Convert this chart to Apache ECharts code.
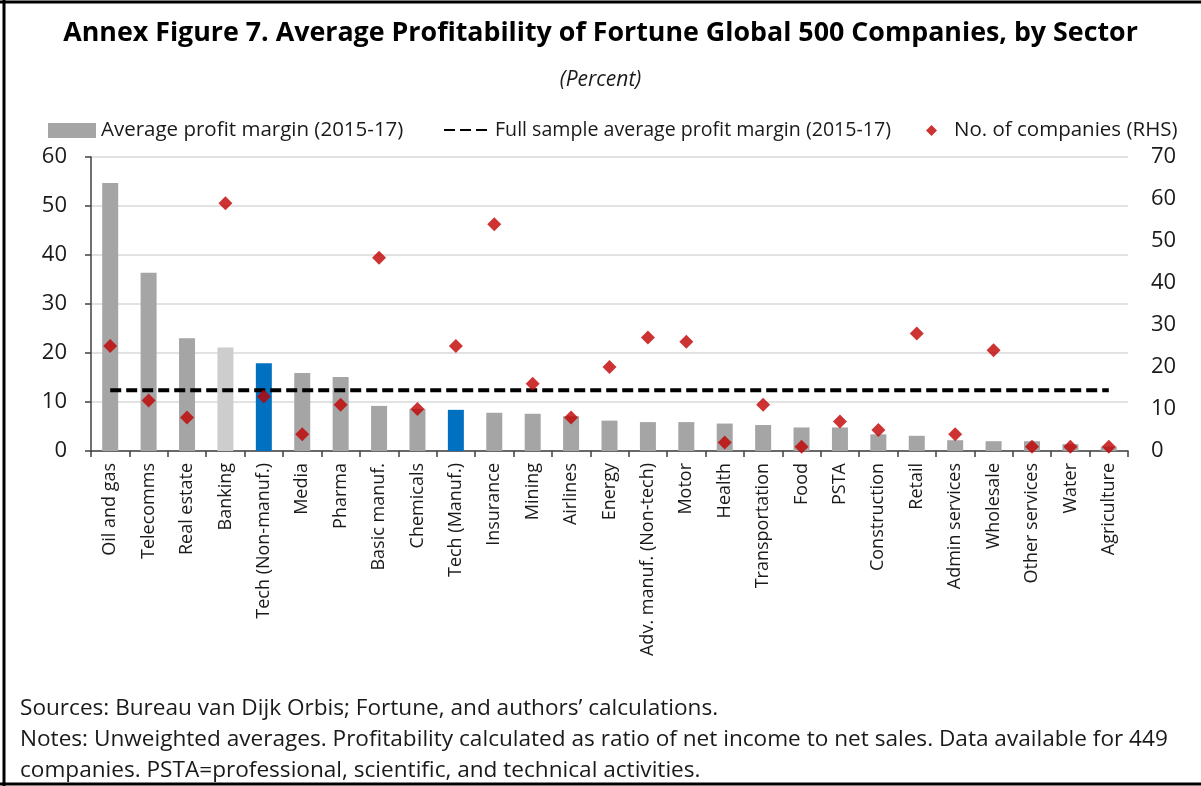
<!DOCTYPE html>
<html>
<head>
<meta charset="utf-8">
<script src="https://cdn.jsdelivr.net/npm/echarts@6/dist/echarts.min.js"></script>
<style>
  html, body { margin: 0; padding: 0; background: #fff; }
  #chart { width: 1201px; height: 786px; }
</style>
</head>
<body>
<div id="chart"></div>
<script>
// sectors, sorted by average profit margin
const sectors = ['Oil and gas', 'Telecomms', 'Real estate', 'Banking', 'Tech (Non-manuf.)', 'Media', 'Pharma',
  'Basic manuf.', 'Chemicals', 'Tech (Manuf.)', 'Insurance', 'Mining', 'Airlines', 'Energy',
  'Adv. manuf. (Non-tech)', 'Motor', 'Health', 'Transportation', 'Food', 'PSTA', 'Construction',
  'Retail', 'Admin services', 'Wholesale', 'Other services', 'Water', 'Agriculture']
// average profit margin 2015-17 (%)
const profitMargin = [54.7, 36.4, 23.0, 21.1, 17.9, 15.9, 15.1, 9.2, 8.6, 8.4, 7.8, 7.6, 7.1, 6.2,
  5.9, 5.9, 5.6, 5.3, 4.8, 4.8, 3.4, 3.1, 2.2, 2.0, 2.0, 1.4, 0.9]
// number of companies (RHS)
const companyCount = [25, 12, 8, 59, 13, 4, 11, 46, 10, 25, 54, 16, 8, 20,
  27, 26, 2, 11, 1, 7, 5, 28, 4, 24, 1, 1, 1]
// full sample average profit margin (%)
const fullSampleAvg = 12.4
// tick labels
const marginTicks = [0, 10, 20, 30, 40, 50, 60]
const countTicks = [0, 10, 20, 30, 40, 50, 60, 70]

const techSectors = ['Tech (Non-manuf.)', 'Tech (Manuf.)']
const FONT = '"Open Sans", "Noto Sans", sans-serif'
const TXT = '#1a1a1a'

const myChart = echarts.init(document.getElementById('chart'), null, { renderer: 'canvas' })

const barColor = (name) => {
  if (techSectors.includes(name)) return '#0070C0'
  if (name === 'Banking') return '#CDCDCD'
  return '#A5A5A5'
}

const option = {
  backgroundColor: '#fff',
  textStyle: { fontFamily: FONT, color: TXT },
  title: [
    {
      text: 'Annex Figure 7. Average Profitability of Fortune Global 500 Companies, by Sector',
      left: 'center',
      top: 15,
      textStyle: { fontFamily: FONT, fontSize: 26.8, fontWeight: 'bold', color: '#000' }
    },
    {
      text: '(Percent)',
      left: 'center',
      top: 65,
      textStyle: { fontFamily: FONT, fontSize: 21, fontStyle: 'italic', fontWeight: 'normal', color: TXT }
    }
  ],
  legend: [
    {
      left: 43,
      top: 115,
      itemWidth: 48,
      itemHeight: 15,
      icon: 'rect',
      data: ['Average profit margin (2015-17)'],
      textStyle: { fontFamily: FONT, fontSize: 20.5, color: TXT }
    },
    {
      left: 438,
      top: 115,
      itemWidth: 46,
      itemHeight: 15,
      itemStyle: { opacity: 0 },
      data: ['Full sample average profit margin (2015-17)'],
      textStyle: { fontFamily: FONT, fontSize: 19.6, color: TXT }
    },
    {
      left: 921,
      top: 115,
      itemWidth: 11,
      itemHeight: 11,
      icon: 'diamond',
      data: ['No. of companies (RHS)'],
      textStyle: { fontFamily: FONT, fontSize: 20.5, color: TXT, padding: [0, 0, 0, 12] }
    }
  ],
  grid: {
    left: 91,
    right: 73,
    top: 157,
    bottom: 335
  },
  xAxis: {
    type: 'category',
    data: sectors,
    axisLine: { lineStyle: { color: '#404040', width: 1.5 } },
    axisTick: { show: true, interval: 0, length: 6, lineStyle: { color: '#404040', width: 1.5 } },
    axisLabel: {
      interval: 0,
      rotate: 90,
      margin: 12,
      fontFamily: FONT,
      fontSize: 18,
      color: TXT
    },
    splitLine: { show: false }
  },
  yAxis: [
    {
      type: 'value',
      min: marginTicks[0],
      max: marginTicks[marginTicks.length - 1],
      interval: marginTicks[1] - marginTicks[0],
      axisLine: { show: true, lineStyle: { color: '#404040', width: 1.5 } },
      axisTick: { show: true, length: 6, lineStyle: { color: '#404040', width: 1.5 } },
      axisLabel: { margin: 24, fontFamily: FONT, fontSize: 22, color: TXT },
      splitLine: { show: true, lineStyle: { color: '#D9D9D9', width: 1.5 } }
    },
    {
      type: 'value',
      position: 'right',
      min: countTicks[0],
      max: countTicks[countTicks.length - 1],
      interval: countTicks[1] - countTicks[0],
      axisLine: { show: false },
      axisTick: { show: false },
      axisLabel: { margin: 23, fontFamily: FONT, fontSize: 22, color: TXT },
      splitLine: { show: false }
    }
  ],
  series: [
    {
      name: 'Average profit margin (2015-17)',
      type: 'bar',
      barWidth: 16,
      itemStyle: { color: '#A5A5A5' },
      data: profitMargin.map((v, i) => ({
        value: v,
        itemStyle: { color: barColor(sectors[i]) }
      })),
      z: 2
    },
    {
      name: 'Full sample average profit margin (2015-17)',
      type: 'line',
      symbol: 'none',
      data: sectors.map(() => fullSampleAvg),
      lineStyle: { color: '#000', width: 4, type: [11, 5] },
      itemStyle: { color: '#000' },
      silent: true,
      z: 3
    },
    {
      name: 'No. of companies (RHS)',
      type: 'scatter',
      yAxisIndex: 1,
      symbol: 'diamond',
      symbolSize: 14,
      itemStyle: { color: '#C00000' },
      data: companyCount,
      z: 4
    }
  ],
  graphic: [
    // frame: left, top, bottom
    { type: 'line', shape: { x1: 4, y1: 0, x2: 4, y2: 786 }, style: { stroke: '#000', lineWidth: 3 } },
    { type: 'line', shape: { x1: 0, y1: 2, x2: 1201, y2: 2 }, style: { stroke: '#000', lineWidth: 3 } },
    { type: 'line', shape: { x1: 0, y1: 784, x2: 1201, y2: 784 }, style: { stroke: '#000', lineWidth: 3 } },
    {
      type: 'text', left: 20, top: 697,
      style: { text: 'Sources: Bureau van Dijk Orbis; Fortune, and authors\u2019 calculations.', font: '22.6px ' + FONT, fill: TXT }
    },
    {
      type: 'text', left: 20, top: 728,
      style: { text: 'Notes: Unweighted averages. Profitability calculated as ratio of net income to net sales. Data available for 449', font: '22.6px ' + FONT, fill: TXT }
    },
    {
      type: 'text', left: 20, top: 759,
      style: { text: 'companies. PSTA=professional, scientific, and technical activities.', font: '22.6px ' + FONT, fill: TXT }
    }
  ]
}

myChart.setOption(option)
</script>
</body>
</html>
